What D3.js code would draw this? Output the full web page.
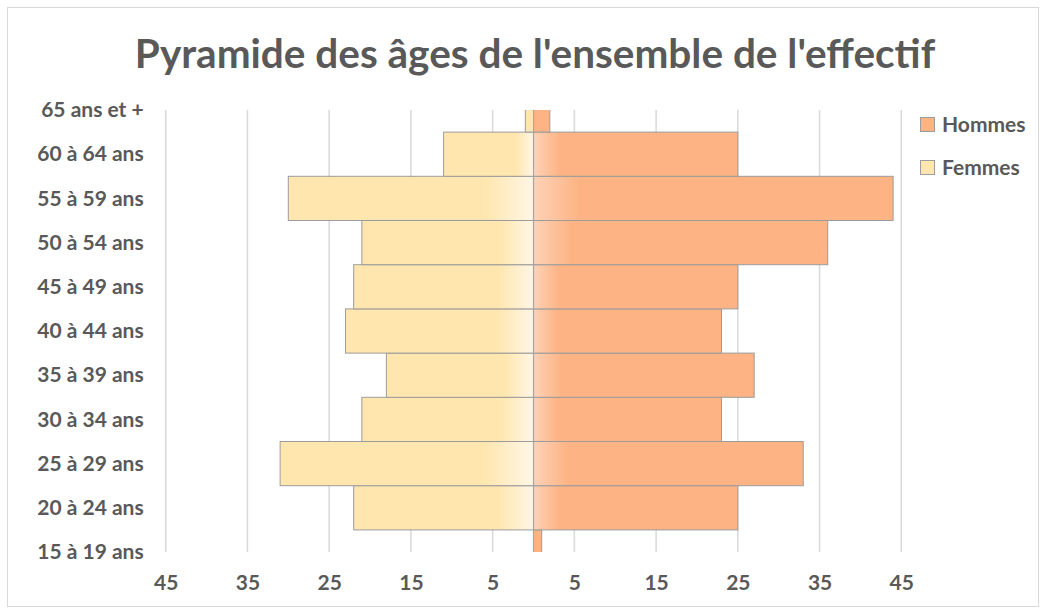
<!DOCTYPE html>
<html>
<head>
<meta charset="utf-8">
<script src="https://cdn.jsdelivr.net/npm/d3@7"></script>
<style>
  html, body { margin: 0; padding: 0; background: #fff; }
  svg { display: block; }
</style>
</head>
<body>
<div id="chart"></div>
<script>
'use strict';

// Tranches d'âge, de bas en haut
const categories = ['15 à 19 ans', '20 à 24 ans', '25 à 29 ans', '30 à 34 ans', '35 à 39 ans',
  '40 à 44 ans', '45 à 49 ans', '50 à 54 ans', '55 à 59 ans', '60 à 64 ans', '65 ans et +'];
const hommes = [1, 25, 33, 23, 27, 23, 25, 36, 44, 25, 2];
const femmes = [0, 22, 31, 21, 18, 23, 22, 21, 30, 11, 1];
const tickValues = [-45, -35, -25, -15, -5, 5, 15, 25, 35, 45];
const seriesNames = ['Hommes', 'Femmes'];

const width = 1046;
const height = 614;
const font = 'Lato, "Open Sans", sans-serif';
const textColor = '#595959';
const colHommes = '#FDB383';
const colFemmes = '#FFE6AE';
const barStroke = '#9c9c9c';
const labelSize = 21;

const plot = { left: 165.7, right: 901.3, top: 110, bottom: 552 };

const svg = d3.select('#chart').append('svg')
  .attr('width', width)
  .attr('height', height);

// Dégradés (clair près de l'axe central)
const defs = svg.append('defs');
const gF = defs.append('linearGradient').attr('id', 'gradF')
  .attr('x1', 0).attr('x2', 1).attr('y1', 0).attr('y2', 0);
gF.append('stop').attr('offset', '0%').attr('stop-color', colFemmes);
gF.append('stop').attr('offset', '80%').attr('stop-color', colFemmes);
gF.append('stop').attr('offset', '100%').attr('stop-color', '#FFF6E6');

const gH = defs.append('linearGradient').attr('id', 'gradH')
  .attr('x1', 0).attr('x2', 1).attr('y1', 0).attr('y2', 0);
gH.append('stop').attr('offset', '0%').attr('stop-color', '#FDD2B8');
gH.append('stop').attr('offset', '13%').attr('stop-color', colHommes);
gH.append('stop').attr('offset', '100%').attr('stop-color', colHommes);

defs.append('clipPath').attr('id', 'plotClip')
  .append('rect')
  .attr('x', plot.left - 2).attr('y', plot.top)
  .attr('width', plot.right - plot.left + 4).attr('height', plot.bottom - plot.top);

// Cadre du graphique
svg.append('rect')
  .attr('x', 7.5).attr('y', 7.5)
  .attr('width', width - 15).attr('height', height - 15)
  .attr('fill', '#fff')
  .attr('stroke', '#d9d9d9')
  .attr('stroke-width', 1);

// Titre
svg.append('text')
  .attr('x', 535)
  .attr('y', 68)
  .attr('text-anchor', 'middle')
  .attr('font-family', font)
  .attr('font-weight', 700)
  .attr('font-size', 40.5)
  .attr('fill', textColor)
  .text("Pyramide des âges de l'ensemble de l'effectif");

const x = d3.scaleLinear().domain([-45, 45]).range([plot.left, plot.right]);
const y = d3.scalePoint().domain(categories).range([plot.bottom, plot.top]);
const band = y.step();

// Quadrillage vertical
svg.append('g')
  .selectAll('line')
  .data(tickValues)
  .join('line')
    .attr('x1', d => x(d)).attr('x2', d => x(d))
    .attr('y1', plot.top).attr('y2', plot.bottom)
    .attr('stroke', '#d9d9d9')
    .attr('stroke-width', 1.5);

// Barres
const bars = svg.append('g').attr('clip-path', 'url(#plotClip)');

bars.selectAll('rect.femmes')
  .data(categories.map((c, i) => ({ c, v: femmes[i] })).filter(d => d.v > 0))
  .join('rect')
    .attr('class', 'femmes')
    .attr('x', d => x(-d.v))
    .attr('y', d => y(d.c) - band / 2)
    .attr('width', d => x(0) - x(-d.v))
    .attr('height', band)
    .attr('fill', 'url(#gradF)')
    .attr('stroke', barStroke)
    .attr('stroke-width', 1);

bars.selectAll('rect.hommes')
  .data(categories.map((c, i) => ({ c, v: hommes[i] })).filter(d => d.v > 0))
  .join('rect')
    .attr('class', 'hommes')
    .attr('x', x(0))
    .attr('y', d => y(d.c) - band / 2)
    .attr('width', d => x(d.v) - x(0))
    .attr('height', band)
    .attr('fill', d => d.v > 3 ? 'url(#gradH)' : colHommes)
    .attr('stroke', barStroke)
    .attr('stroke-width', 1);

// Axe vertical central
svg.append('line')
  .attr('x1', x(0)).attr('x2', x(0))
  .attr('y1', plot.top).attr('y2', plot.bottom)
  .attr('stroke', '#a6a6a6')
  .attr('stroke-width', 1.2);

// Étiquettes des catégories
const yAxis = svg.append('g')
  .attr('transform', `translate(${plot.left - 22},0)`)
  .call(d3.axisLeft(y).tickSize(0).tickPadding(0));
yAxis.select('.domain').remove();
yAxis.selectAll('text')
  .attr('font-family', font)
  .attr('font-weight', 700)
  .attr('font-size', labelSize)
  .attr('fill', textColor);

// Étiquettes de l'axe horizontal (valeurs absolues)
const xAxis = svg.append('g')
  .attr('transform', `translate(0,${plot.bottom})`)
  .call(d3.axisBottom(x).tickValues(tickValues).tickSize(0).tickPadding(23)
    .tickFormat(d => Math.abs(d)));
xAxis.select('.domain').remove();
xAxis.selectAll('text')
  .attr('font-family', font)
  .attr('font-weight', 700)
  .attr('font-size', labelSize)
  .attr('fill', textColor);

// Légende
const legend = svg.append('g');
const legendColors = [colHommes, colFemmes];
seriesNames.forEach((name, i) => {
  const ly = 124.5 + i * 43;
  legend.append('rect')
    .attr('x', 920.5).attr('y', ly - 7)
    .attr('width', 14).attr('height', 14)
    .attr('fill', legendColors[i])
    .attr('stroke', barStroke)
    .attr('stroke-width', 1);
  legend.append('text')
    .attr('x', 942)
    .attr('y', ly)
    .attr('dy', '0.35em')
    .attr('font-family', font)
    .attr('font-weight', 700)
    .attr('font-size', labelSize)
    .attr('fill', textColor)
    .text(name);
});
</script>
</body>
</html>
